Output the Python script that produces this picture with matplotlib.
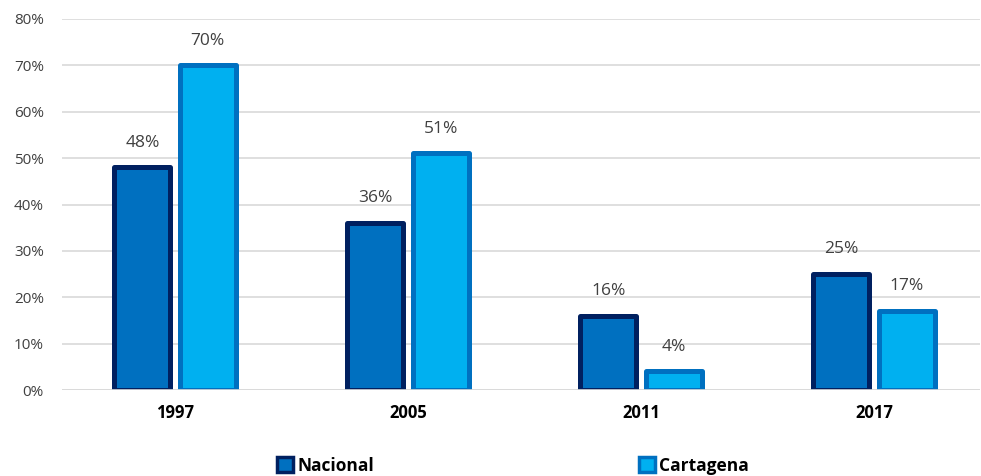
import matplotlib
matplotlib.use("Agg")
import matplotlib.pyplot as plt
from matplotlib.patches import Patch
from matplotlib.ticker import FuncFormatter

categories = ["1997", "2005", "2011", "2017"]
nacional = [0.48, 0.36, 0.16, 0.25]
cartagena = [0.70, 0.51, 0.04, 0.17]
labels_nac = ["48%", "36%", "16%", "25%"]
labels_car = ["70%", "51%", "4%", "17%"]

plt.rcParams['font.family'] = ['Open Sans', 'DejaVu Sans']

fig = plt.figure(figsize=(9.81, 4.76), dpi=100)
ax = fig.add_axes([62/981, 86/476, (980-62)/981, 371/476])

x = range(len(categories))
w = 0.24
off = 0.14
nac_face, nac_edge = "#0070C0", "#002060"
car_face, car_edge = "#00B0F0", "#0070C0"

b1 = ax.bar([i - off for i in x], nacional, w, color=nac_face, edgecolor=nac_edge, linewidth=3.6, zorder=3)
b2 = ax.bar([i + off for i in x], cartagena, w, color=car_face, edgecolor=car_edge, linewidth=3.6, zorder=3)
for b in list(b1) + list(b2):
    b.set_joinstyle('round')

for i in x:
    ax.annotate(labels_nac[i], (i - off, nacional[i]), xytext=(0, 12), textcoords="offset points",
                ha="center", va="bottom", fontsize=12.5, color="#404040")
    ax.annotate(labels_car[i], (i + off, cartagena[i]), xytext=(0, 12), textcoords="offset points",
                ha="center", va="bottom", fontsize=12.5, color="#404040")

ax.set_xlim(-0.485, 3.455)
ax.set_ylim(0, 0.8)
ax.set_yticks([i / 10 for i in range(9)])
ax.yaxis.set_major_formatter(FuncFormatter(lambda v, p: f"{v*100:.0f}%"))
ax.set_xticks(list(x))
ax.set_xticklabels(categories, fontsize=12, fontweight="bold", color="black")
ax.tick_params(axis="y", length=0, pad=13, labelsize=11, labelcolor="#404040")
ax.tick_params(axis="x", length=0, pad=10)
ax.grid(axis="y", color="#D9D9D9", linewidth=1.2, zorder=0)
for s in ax.spines.values():
    s.set_visible(False)
ax.axhline(0, color="#D9D9D9", linewidth=1.2, zorder=4)

handles = [Patch(facecolor=nac_face, edgecolor=nac_edge, linewidth=2.5, label="Nacional"),
           Patch(facecolor=car_face, edgecolor=car_edge, linewidth=2.5, label="Cartagena")]
leg = fig.legend(handles=handles, loc="center", bbox_to_anchor=(0.523, 0.022), ncol=2, frameon=False,
                 prop={"weight": "bold", "size": 12.5}, handlelength=0.9, handleheight=0.9,
                 handletextpad=0.25, columnspacing=15.3)

fig.savefig("out.png", dpi=100)
